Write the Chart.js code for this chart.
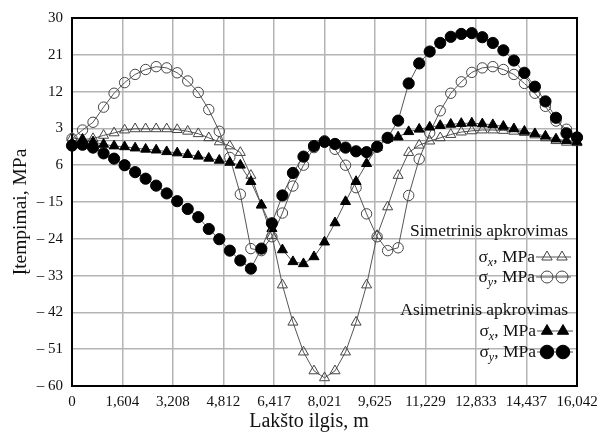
<!DOCTYPE html>
<html>
<head>
<meta charset="utf-8">
<script src="https://cdn.jsdelivr.net/npm/chart.js@4/dist/chart.umd.min.js"></script>
<style>
  html, body { margin: 0; padding: 0; background: #fff; }
  #wrap { width: 611px; height: 439px; }
</style>
</head>
<body>
<div id="wrap"><canvas id="c" width="611" height="439"></canvas></div>
<script>
// Stations along the sheet length, m
const stations = [
  0, 0.334, 0.668, 1.003, 1.337, 1.671, 2.005, 2.339, 2.674, 3.008,
  3.342, 3.676, 4.011, 4.345, 4.679, 5.013, 5.347, 5.682, 6.016, 6.350,
  6.684, 7.018, 7.353, 7.687, 8.021, 8.355, 8.689, 9.024, 9.358, 9.692,
  10.026, 10.360, 10.695, 11.029, 11.363, 11.697, 12.032, 12.366, 12.700, 13.034,
  13.368, 13.703, 14.037, 14.371, 14.705, 15.039, 15.374, 15.708, 16.042
];

// Symmetric loading: sigma_x and sigma_y, MPa
const symSigmaX = [
  0.7, 0.3, 0.5, 1.3, 1.9, 2.6, 2.9, 2.9, 2.9, 2.9,
  2.7, 2.3, 1.7, 0.7, -0.3, -1.3, -2.9, -8.5, -15.8, -23.2,
  -35.3, -44.4, -51.7, -56.3, -58.0, -56.3, -51.7, -44.4, -35.3, -23.2,
  -16.2, -8.5, -2.9, -1.1, -0.1, 0.7, 1.5, 2.1, 2.4, 2.6,
  2.6, 2.5, 2.3, 2.0, 1.4, 0.7, 0.0, -0.4, -0.5
];
const symSigmaY = [
  0.5, 2.6, 4.5, 8.2, 11.6, 14.2, 16.2, 17.4, 18.1, 17.8,
  16.6, 14.6, 11.8, 7.6, 2.3, -4.1, -13.1, -26.4, -26.9, -23.5,
  -17.7, -11.1, -6.0, -1.7, 0.0, -2.1, -6.0, -11.5, -17.9, -23.5,
  -26.9, -26.2, -13.4, -4.5, 1.9, 7.3, 11.6, 14.4, 16.7, 17.8,
  18.1, 17.4, 16.2, 14.0, 11.6, 8.4, 4.8, 2.8, 0.8
];

// Asymmetric loading: sigma_x and sigma_y, MPa
const asymSigmaX = [
  -0.6, 0.3, -0.3, -0.9, -1.3, -1.5, -1.8, -2.1, -2.3, -2.7,
  -3.0, -3.4, -3.8, -4.3, -4.8, -5.3, -6.0, -10.0, -15.7, -21.5,
  -26.7, -29.6, -30.1, -28.4, -24.8, -20.1, -14.9, -10.0, -5.6, -1.7,
  0.5, 0.9, 2.2, 2.8, 3.3, 3.7, 4.0, 4.2, 4.3, 4.1,
  3.9, 3.5, 2.9, 2.3, 1.7, 1.1, 0.4, 0.0, -0.3
];
const asymSigmaY = [
  -1.2, -1.0, -1.7, -3.1, -4.4, -6.0, -7.7, -9.3, -11.0, -12.9,
  -14.8, -16.7, -18.7, -21.6, -24.1, -26.9, -29.3, -31.3, -26.4, -20.2,
  -13.4, -7.9, -3.9, -1.3, -0.3, -0.8, -1.7, -2.6, -2.8, -1.5,
  0.7, 4.9, 14.0, 18.9, 21.8, 23.9, 25.4, 26.1, 26.3, 25.3,
  23.9, 22.1, 19.6, 16.6, 13.2, 9.6, 5.6, 1.8, 0.8
];

// Axis ticks
const xTickValues = [0, 1.604, 3.208, 4.812, 6.417, 8.021, 9.625, 11.229, 12.833, 14.437, 16.042];
const xTickLabels = ['0', '1,604', '3,208', '4,812', '6,417', '8,021', '9,625', '11,229', '12,833', '14,437', '16,042'];
const yTickValues = [30, 21, 12, 3, -6, -15, -24, -33, -42, -51, -60];
const yTickLabels = ['30', '21', '12', '3', '6', '\u2013 15', '\u2013 24', '\u2013 33', '\u2013 42', '\u2013 51', '\u2013 60'];

const xTitle = 'Lak\u0161to ilgis, m';
const yTitle = '\u012Etempimai, MPa';
const groupSym = 'Simetrinis apkrovimas';
const groupAsym = 'Asimetrinis apkrovimas';

const SERIF = '"Liberation Serif", "Times New Roman", serif';
const LINE = '#555';

const toPoints = (vals) => vals.map((v, i) => ({ x: stations[i], y: v }));

const openStyle = {
  borderColor: LINE, borderWidth: 1,
  pointBackgroundColor: 'rgba(255,255,255,0)', pointBorderColor: '#444', pointBorderWidth: 1
};
const solidStyle = {
  borderColor: LINE, borderWidth: 1,
  pointBackgroundColor: '#000', pointBorderColor: '#000', pointBorderWidth: 1
};

const datasets = [
  Object.assign({ label: 'asym sy', data: toPoints(asymSigmaY), pointStyle: 'circle', pointRadius: 5.6 }, solidStyle),
  Object.assign({ label: 'asym sx', data: toPoints(asymSigmaX), pointStyle: 'triangle', pointRadius: 5.8 }, solidStyle),
  Object.assign({ label: 'sym sy', data: toPoints(symSigmaY), pointStyle: 'circle', pointRadius: 5.2 }, openStyle),
  Object.assign({ label: 'sym sx', data: toPoints(symSigmaX), pointStyle: 'triangle', pointRadius: 5.8 }, openStyle)
];
datasets.forEach(d => { d.tension = 0; d.clip = false; d.pointHoverRadius = d.pointRadius; });

// Frame, zero line, axis titles and the grouped legend
const decorations = {
  id: 'decorations',
  beforeDatasetsDraw(chart) {
    const { ctx, chartArea: a, scales } = chart;
    ctx.save();
    const y0 = scales.y.getPixelForValue(0);
    ctx.strokeStyle = '#777';
    ctx.lineWidth = 1;
    ctx.beginPath();
    ctx.moveTo(a.left, y0);
    ctx.lineTo(a.right, y0);
    ctx.stroke();
    ctx.strokeStyle = '#000';
    ctx.lineWidth = 2;
    ctx.strokeRect(a.left, a.top, a.right - a.left, a.bottom - a.top);
    ctx.restore();
  },
  afterDraw(chart) {
    const { ctx } = chart;
    const H = Chart.helpers;
    ctx.save();
    ctx.fillStyle = '#111';

    // axis titles
    ctx.textAlign = 'center';
    ctx.textBaseline = 'middle';
    ctx.font = '20px ' + SERIF;
    ctx.fillText(xTitle, 309, 422);
    ctx.save();
    ctx.translate(21, 212);
    ctx.rotate(-Math.PI / 2);
    ctx.font = '19.5px ' + SERIF;
    ctx.fillText(yTitle, 0, 0);
    ctx.restore();

    // legend
    const right = 568;
    ctx.textAlign = 'right';
    ctx.textBaseline = 'alphabetic';
    ctx.font = '17.5px ' + SERIF;
    ctx.fillText(groupSym, right, 236);
    ctx.fillText(groupAsym, right, 315);

    function sigmaLabel(sub, rx, cy) {
      const big = '17.5px ' + SERIF, small = 'italic 12px ' + SERIF;
      ctx.textAlign = 'left';
      ctx.font = big; const w1 = ctx.measureText('\u03C3').width;
      ctx.font = small; const w2 = ctx.measureText(sub).width;
      ctx.font = big; const w3 = ctx.measureText(', MPa').width;
      let x = rx - (w1 + w2 + w3);
      const base = cy + 5;
      ctx.font = big; ctx.fillText('\u03C3', x, base); x += w1;
      ctx.font = small; ctx.fillText(sub, x, base + 4); x += w2;
      ctx.font = big; ctx.fillText(', MPa', x, base);
    }
    function sample(y, x1, x2, xs, style, radius, filled) {
      ctx.strokeStyle = LINE;
      ctx.lineWidth = 1;
      ctx.beginPath(); ctx.moveTo(x1, y); ctx.lineTo(x2, y); ctx.stroke();
      xs.forEach(x => {
        ctx.fillStyle = filled ? '#000' : 'rgba(255,255,255,0)';
        ctx.strokeStyle = filled ? '#000' : '#444';
        H.drawPoint(ctx, { pointStyle: style, radius: radius, borderWidth: 1, rotation: 0 }, x, y);
      });
      ctx.fillStyle = '#111';
    }
    sigmaLabel('x', 535, 257);
    sample(257, 536, 571, [547, 562], 'triangle', 6, false);
    sigmaLabel('y', 535, 277);
    sample(277, 536, 571, [547, 562], 'circle', 6, false);
    sigmaLabel('x', 536, 331);
    sample(331, 537, 573, [547, 563], 'triangle', 6.5, true);
    sigmaLabel('y', 536, 352);
    sample(352, 537, 573, [547, 563], 'circle', 6.8, true);
    ctx.restore();
  }
};

new Chart(document.getElementById('c'), {
  type: 'line',
  data: { datasets },
  options: {
    responsive: false,
    animation: false,
    devicePixelRatio: 1,
    layout: { padding: { left: 0, top: 14, right: 34, bottom: 0 } },
    plugins: { legend: { display: false }, tooltip: { enabled: false } },
    scales: {
      x: {
        type: 'linear',
        min: 0, max: 16.042,
        afterFit(s) { s.height = 53; },
        afterBuildTicks(s) { s.ticks = xTickValues.map(v => ({ value: v })); },
        grid: { color: '#b4b4b4', lineWidth: 1.5, drawTicks: false },
        border: { display: true, color: '#000', width: 2 },
        ticks: {
          padding: 7, color: '#111', maxRotation: 0, autoSkip: false,
          font: { family: SERIF, size: 15 },
          callback: (v, i) => xTickLabels[i]
        }
      },
      y: {
        min: -60, max: 30,
        afterFit(s) { s.width = 72; },
        afterBuildTicks(s) { s.ticks = yTickValues.slice().reverse().map(v => ({ value: v })); },
        grid: { color: '#b4b4b4', lineWidth: 1.5, drawTicks: false },
        border: { display: true, color: '#000', width: 2 },
        ticks: {
          padding: 9, color: '#111',
          font: { family: SERIF, size: 15 },
          callback: (v) => yTickLabels[yTickValues.indexOf(v)]
        }
      }
    }
  },
  plugins: [decorations]
});
</script>
</body>
</html>
